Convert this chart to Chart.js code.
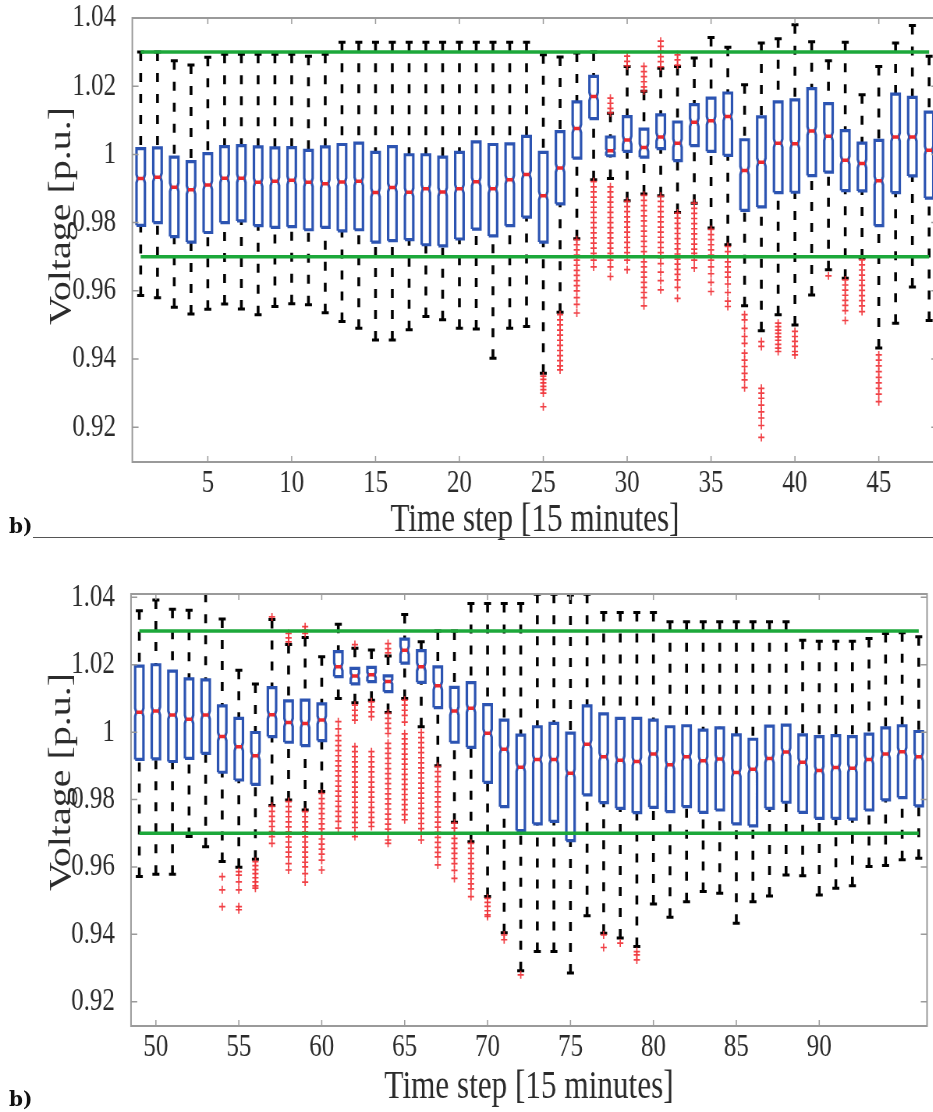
<!DOCTYPE html>
<html><head><meta charset="utf-8">
<script src="https://cdn.jsdelivr.net/npm/chart.js@4.4.0/dist/chart.umd.min.js"></script>
<style>
html,body{margin:0;padding:0;background:#fff;overflow:hidden;width:933px;height:1112px;position:relative;}
.wrap{position:absolute;left:0;transform-origin:0 0;transform:scaleX(0.78);}
canvas{display:block;}
.tag{position:absolute;left:9px;font-family:'DejaVu Serif',serif;font-weight:bold;font-size:20px;line-height:20px;color:#111;}
.rule{position:absolute;left:33px;width:900px;height:0;border-top:1.5px solid #555;}
</style></head><body>
<div class="wrap" style="top:0"><canvas id="c1" width="1212" height="545"></canvas></div>
<div class="wrap" style="top:560px"><canvas id="c2" width="1196" height="552"></canvas></div>
<div class="tag" style="top:516px">b)</div>
<div class="rule" style="top:537px"></div>
<div class="tag" style="top:1089px">b)</div>
<script>
// ---------- DATA ----------
const xTitle = 'Time step [15 minutes]';
const yTitle = 'Voltage [p.u.]';
const yTickValues = [0.92, 0.94, 0.96, 0.98, 1.00, 1.02, 1.04];
const yTickLabels = ['0.92', '0.94', '0.96', '0.98', '1', '1.02', '1.04'];
const xTicksTop = [5, 10, 15, 20, 25, 30, 35, 40, 45];
const xTicksBottom = [50, 55, 60, 65, 70, 75, 80, 85, 90];
const voltageLimits = [0.97, 1.03];

const stepsTop = [1,2,3,4,5,6,7,8,9,10,11,12,13,14,15,16,17,18,19,20,21,22,23,24,
  25,26,27,28,29,30,31,32,33,34,35,36,37,38,39,40,41,42,43,44,45,46,47,48];
const hiTop = [1.030,1.030,1.0275,1.0262,1.0285,1.0294,1.0294,1.0294,1.0294,1.0294,1.0288,1.0294,
  1.0329,1.0329,1.0329,1.0329,1.0329,1.0329,1.0329,1.0329,1.0329,1.0329,1.0329,1.0329,
  1.0292,1.0286,1.0297,1.030,1.0121,1.0258,1.0185,1.0253,1.0258,1.0283,1.0343,1.0314,
  1.0204,1.0327,1.0339,1.0380,1.0330,1.0275,1.0329,1.0175,1.0258,1.0327,1.0378,1.0288];
const q3Top = [1.0017,1.0019,0.9992,0.9979,1.0002,1.0023,1.0026,1.0022,1.0019,1.0020,1.0012,1.0022,
  1.0029,1.0033,1.0006,1.0023,0.9999,0.9999,0.9992,1.0006,1.0037,1.0029,1.0031,1.0053,
  1.0006,1.0067,1.0154,1.0229,1.0051,1.0111,1.0074,1.0116,1.0095,1.0146,1.0165,1.0180,
  1.0043,1.0110,1.0154,1.0160,1.0193,1.0149,1.0070,1.0033,1.0041,1.0177,1.0167,1.0124];
const medTop = [0.9929,0.9933,0.9904,0.9896,0.9910,0.9930,0.9930,0.9918,0.9921,0.9924,0.9918,0.9914,
  0.9919,0.9921,0.9888,0.9903,0.9889,0.9899,0.9890,0.9899,0.9920,0.9899,0.9926,0.9941,
  0.9879,0.9960,1.0076,1.0170,1.0011,1.0042,1.0020,1.0051,1.0033,1.0094,1.0099,1.0111,
  0.9953,0.9977,1.0033,1.0031,1.0069,1.0053,0.9983,0.9973,0.9923,1.0051,1.0051,1.0012];
const q1Top = [0.9792,0.9800,0.9759,0.9743,0.9771,0.9800,0.9805,0.9791,0.9786,0.9788,0.9779,0.9786,
  0.9776,0.9779,0.9743,0.9747,0.9750,0.9735,0.9732,0.9752,0.9781,0.9761,0.9791,0.9816,
  0.9743,0.9855,0.9989,1.0105,0.9996,1.0009,0.9992,1.0017,0.9982,1.0026,1.0009,0.9997,
  0.9836,0.9846,0.9888,0.9889,0.9938,0.9948,0.9894,0.9893,0.9791,0.9888,0.9937,0.9872];
const loTop = [0.9586,0.9580,0.9552,0.9532,0.9546,0.9561,0.9547,0.9530,0.9554,0.9562,0.9559,0.9536,
  0.9510,0.9490,0.9456,0.9456,0.9486,0.9525,0.9515,0.9490,0.9488,0.9402,0.9490,0.9495,
  0.9358,0.9537,0.9753,0.9926,0.9929,0.9864,0.9884,0.9879,0.9830,0.9857,0.9784,0.9735,
  0.9556,0.9483,0.9530,0.9500,0.9588,0.9662,0.9637,0.9696,0.9432,0.9505,0.9611,0.9513];
const outliersTop = {
  25:[0.935,0.934,0.933,0.932,0.931,0.930,0.926],
  26:[0.953,0.9515,0.950,0.9485,0.947,0.9455,0.944,0.9425,0.941,0.9395,0.938,0.9368],
  27:[0.975,0.9735,0.972,0.9705,0.969,0.9675,0.966,0.9645,0.963,0.9615,0.960,0.958,0.956,0.9535],
  28:[0.992,0.9905,0.989,0.9875,0.986,0.9845,0.983,0.9815,0.980,0.9785,0.977,0.9755,0.974,0.9725,0.971,0.969,0.967],
  29:[1.0165,1.015,1.0135,1.0122,0.9905,0.989,0.9875,0.986,0.9845,0.983,0.9815,0.980,0.9785,0.977,0.9755,0.974,0.9725,0.971,0.969,0.967,0.9642],
  30:[1.0288,1.0273,1.026,0.9862,0.9847,0.9832,0.9817,0.9802,0.9787,0.9772,0.9757,0.9742,0.9727,0.9712,0.969,0.9662],
  31:[1.0258,1.0243,1.0228,1.0213,1.0198,1.0186,0.988,0.9865,0.985,0.9835,0.982,0.9805,0.979,0.9775,0.976,0.9745,0.973,0.9715,0.970,0.9685,0.967,0.9655,0.964,0.9625,0.961,0.9595,0.958,0.9556],
  32:[1.0332,1.0317,1.0302,1.0287,1.0272,1.0257,0.9877,0.9862,0.9847,0.9832,0.9817,0.9802,0.9787,0.9772,0.9757,0.9742,0.9727,0.9712,0.9697,0.968,0.9655,0.963,0.9603],
  33:[1.0292,1.0277,1.0262,0.9828,0.9813,0.9798,0.9783,0.9768,0.9753,0.9738,0.9723,0.9708,0.9693,0.9678,0.9663,0.9648,0.9632,0.961,0.9578],
  34:[0.9857,0.9842,0.9827,0.9812,0.9797,0.9782,0.9767,0.9752,0.9737,0.9722,0.971,0.969,0.9667],
  35:[0.978,0.9765,0.975,0.9735,0.972,0.9705,0.969,0.967,0.965,0.9625,0.9598],
  36:[0.973,0.9715,0.970,0.9685,0.967,0.9655,0.964,0.962,0.9595,0.957,0.9554],
  37:[0.953,0.9515,0.949,0.9466,0.9446,0.9417,0.9397,0.9378,0.9358,0.9339,0.9316],
  38:[0.9451,0.9437,0.9314,0.930,0.9285,0.9265,0.9245,0.9227,0.9205,0.917],
  39:[0.9505,0.9495,0.9485,0.9475,0.9465,0.9455,0.9443,0.9432,0.9422],
  40:[0.9481,0.9466,0.9452,0.9437,0.9422,0.9412],
  42:[0.9644],
  43:[0.9632,0.9617,0.9602,0.9587,0.9572,0.9557,0.9542,0.9513],
  44:[0.9691,0.9676,0.9661,0.9646,0.9631,0.9616,0.9601,0.9586,0.9571,0.9556,0.9539],
  45:[0.9412,0.9397,0.938,0.9363,0.9346,0.933,0.9314,0.9297,0.9275]
};

const stepsBottom = [49,50,51,52,53,54,55,56,57,58,59,60,61,62,63,64,65,66,67,68,69,70,71,72,
  73,74,75,76,77,78,79,80,81,82,83,84,85,86,87,88,89,90,91,92,93,94,95,96];
const hiBottom = [1.0360,1.0392,1.0365,1.0362,1.0412,1.0336,1.0184,1.0143,1.0334,1.0260,1.0281,1.0224,
  1.0320,1.0249,1.0244,1.0226,1.0349,1.0268,1.0300,1.0300,1.0382,1.0382,1.0382,1.0382,
  1.0409,1.0409,1.0407,1.0409,1.0355,1.0355,1.0355,1.0355,1.0328,1.0328,1.0328,1.0328,
  1.0328,1.0328,1.0328,1.0328,1.0273,1.0270,1.0270,1.0270,1.0278,1.0293,1.0295,1.0283];
const q3Bottom = [1.0196,1.0200,1.0181,1.0158,1.0155,1.0078,1.0041,0.9999,1.0132,1.0093,1.0095,1.0084,
  1.0239,1.0189,1.0192,1.0167,1.0276,1.0242,1.0194,1.0133,1.0147,1.0082,1.0036,0.9991,
  1.0016,1.0026,0.9997,1.0078,1.0054,1.0041,1.0041,1.0036,1.0016,1.0019,1.0006,1.0013,
  0.9992,0.9979,1.0018,1.0021,0.9992,0.9987,0.9990,0.9987,0.9994,1.0013,1.0019,1.0002];
const medBottom = [1.0059,1.0063,1.0051,1.0038,1.0051,0.9987,0.9957,0.9930,1.0052,1.0029,1.0026,1.0036,
  1.0194,1.0167,1.0170,1.0150,1.0243,1.0194,1.0138,1.0063,1.0071,0.9997,0.9949,0.9896,
  0.9919,0.9919,0.9878,0.9964,0.9927,0.9917,0.9913,0.9935,0.9903,0.9927,0.9915,0.9920,
  0.9880,0.9890,0.9922,0.9941,0.9911,0.9886,0.9895,0.9893,0.9919,0.9935,0.9942,0.9927];
const q1Bottom = [0.9919,0.9921,0.9913,0.9922,0.9937,0.9881,0.9858,0.9845,0.9987,0.9970,0.9960,0.9975,
  1.0165,1.0143,1.0150,1.0120,1.0205,1.0148,1.0073,0.9970,0.9955,0.9851,0.9779,0.9708,
  0.9728,0.9735,0.9678,0.9814,0.9791,0.9774,0.9761,0.9777,0.9764,0.9779,0.9762,0.9769,
  0.9728,0.9722,0.9774,0.9792,0.9762,0.9744,0.9744,0.9742,0.9769,0.9799,0.9806,0.9781];
const loBottom = [0.9572,0.9578,0.9578,0.9690,0.9660,0.9616,0.9599,0.9623,0.9782,0.9799,0.9769,0.9824,
  1.0100,1.0087,1.0095,1.0058,1.0100,1.0016,0.9900,0.9733,0.9675,0.9512,0.9405,0.9292,
  0.9349,0.9349,0.9285,0.9455,0.9403,0.9389,0.9364,0.9490,0.9451,0.9497,0.9527,0.9522,
  0.9433,0.9497,0.9514,0.9576,0.9574,0.9517,0.9537,0.9544,0.9601,0.9604,0.9621,0.9626];
const outliersBottom = {
  54:[0.9571,0.9532,0.9482],
  55:[0.9586,0.9576,0.9556,0.9532,0.9482,0.9473],
  56:[0.9616,0.9604,0.9592,0.958,0.9568,0.9556,0.9544,0.9537],
  57:[1.0342,0.978,0.9765,0.975,0.9735,0.972,0.9705,0.969,0.967],
  58:[1.0293,1.028,1.0268,0.9794,0.9779,0.9764,0.9749,0.9734,0.9719,0.9704,0.9689,0.9674,0.9659,0.9644,0.963,0.961,0.9591],
  59:[1.0313,1.0303,1.0293,0.9764,0.9749,0.9734,0.9719,0.9704,0.9689,0.9674,0.9659,0.9644,0.9629,0.9614,0.960,0.958,0.9555],
  60:[0.9818,0.9803,0.9788,0.9773,0.9758,0.9743,0.9728,0.9713,0.9698,0.9683,0.9668,0.9653,0.9638,0.962,0.9591],
  61:[1.0031,1.001,0.999,0.9975,0.996,0.9945,0.993,0.9915,0.990,0.9885,0.987,0.9855,0.984,0.9825,0.981,0.9795,0.978,0.9765,0.975,0.9735,0.9715],
  62:[1.026,1.008,1.0065,1.005,1.0036,0.9957,0.9942,0.9927,0.9912,0.9897,0.9882,0.9867,0.9852,0.9837,0.9822,0.9807,0.9792,0.9777,0.9762,0.9747,0.9732,0.9717,0.970,0.969],
  63:[1.009,1.0075,1.006,1.0046,0.9942,0.9927,0.9912,0.9897,0.9882,0.9867,0.9852,0.9837,0.9822,0.9807,0.9792,0.9777,0.9762,0.9747,0.9732,0.972],
  64:[1.0263,1.0248,1.0235,1.0056,1.0041,1.0026,1.0011,0.9996,0.9967,0.9952,0.9937,0.9922,0.9907,0.9892,0.9877,0.9862,0.9847,0.9832,0.9817,0.9802,0.9787,0.9772,0.9757,0.9742,0.9727,0.9712,0.9697,0.968,0.967],
  65:[1.0095,1.008,1.0065,1.005,1.003,0.9995,0.998,0.9965,0.995,0.9935,0.992,0.9905,0.989,0.9875,0.986,0.9845,0.983,0.9815,0.980,0.9785,0.977,0.9755,0.974],
  66:[0.9999,0.9984,0.9969,0.9954,0.9939,0.9924,0.9909,0.9894,0.9879,0.9864,0.9849,0.9834,0.9819,0.9804,0.9789,0.9774,0.9759,0.9744,0.9729,0.9714,0.970,0.968],
  67:[0.9898,0.9883,0.9868,0.9853,0.9838,0.9823,0.9808,0.9793,0.9778,0.9763,0.9748,0.9733,0.9718,0.9703,0.9688,0.9673,0.9658,0.9643,0.963,0.9606],
  68:[0.973,0.9715,0.970,0.9685,0.967,0.9655,0.964,0.9625,0.961,0.959,0.9566],
  69:[0.967,0.9655,0.964,0.9625,0.961,0.9595,0.958,0.9565,0.955,0.9535,0.9512],
  70:[0.9507,0.9495,0.9483,0.947,0.9458,0.9453],
  71:[0.9398,0.9384],
  72:[0.928],
  77:[0.9398,0.9361],
  78:[0.9374],
  79:[0.9349,0.9339,0.9324]
};

// ---------- DRAWING ----------
const SX = 0.78;                 // horizontal compression of the figure
const BOX_HALF = 0.25, NOTCH_IN = 0.07, NOTCH_H = 0.0012;
const FONT = '"Liberation Serif", "Times New Roman", serif';

function buildDatasets(steps, lo, q1, med, q3, hi, outl) {
  const whisk = [], caps = [], box = [], meds = [], outs = [], lim = [];
  steps.forEach((s, i) => {
    whisk.push({x:s,y:hi[i]},{x:s,y:q3[i]},{x:s,y:null},{x:s,y:lo[i]},{x:s,y:q1[i]},{x:s,y:null});
    caps.push({x:s,y:hi[i]},{x:s,y:lo[i]});
    const nh = Math.min(NOTCH_H, (q3[i]-med[i])*0.4, (med[i]-q1[i])*0.4);
    const L = s - BOX_HALF, R = s + BOX_HALF;
    box.push({x:L,y:q1[i]},{x:R,y:q1[i]},{x:R,y:med[i]-nh},{x:R-NOTCH_IN,y:med[i]},{x:R,y:med[i]+nh},
             {x:R,y:q3[i]},{x:L,y:q3[i]},{x:L,y:med[i]+nh},{x:L+NOTCH_IN,y:med[i]},{x:L,y:med[i]-nh},
             {x:L,y:q1[i]},{x:s,y:null});
    meds.push({x:L+NOTCH_IN,y:med[i]},{x:R-NOTCH_IN,y:med[i]},{x:s,y:null});
    (outl[s] || []).forEach(v => outs.push({x:s,y:v}));
  });
  const first = steps[0], last = steps[steps.length-1];
  voltageLimits.forEach(v => lim.push({x:first,y:v},{x:last,y:v},{x:last,y:null}));
  return [
    {label:'limits', data:lim, showLine:true, borderColor:'rgb(28,168,58)', borderWidth:3.5, pointRadius:0, order:0},
    {label:'outliers', data:outs, showLine:false, pointStyle:'cross', pointRadius:4, pointBorderWidth:1.7,
     pointBorderColor:'rgba(240,50,55,0.92)', pointBackgroundColor:'rgba(240,50,55,0.92)', order:1},
    {label:'median', data:meds, showLine:true, borderColor:'rgb(238,40,45)', borderWidth:3.5, pointRadius:0, order:2},
    {label:'box', data:box, showLine:true, borderColor:'rgb(44,84,178)', borderWidth:3.2, borderJoinStyle:'miter', pointRadius:0, order:3},
    {label:'caps', data:caps, showLine:false, pointStyle:'line', pointRadius:4.5, pointBorderWidth:3,
     pointBorderColor:'#000', order:4},
    {label:'whiskers', data:whisk, showLine:true, borderColor:'#000', borderWidth:3.6, borderDash:[9,12],
     borderCapStyle:'butt', pointRadius:0, order:5}
  ];
}

const framePlugin = {
  id: 'frame',
  afterDraw(chart, args, opts) {
    const {ctx, chartArea:a, scales:{x, y}} = chart;
    ctx.save();
    ctx.strokeStyle = '#9a9a9a';
    ctx.lineWidth = 2;
    ctx.strokeRect(a.left, a.top, a.right - a.left, a.bottom - a.top);
    ctx.beginPath();
    y.ticks.forEach(t => { const p = y.getPixelForValue(t.value);
      ctx.moveTo(a.left, p); ctx.lineTo(a.left + 8, p); ctx.moveTo(a.right, p); ctx.lineTo(a.right - 8, p); });
    x.ticks.forEach(t => { const p = x.getPixelForValue(t.value);
      ctx.moveTo(p, a.bottom); ctx.lineTo(p, a.bottom - 6); ctx.moveTo(p, a.top); ctx.lineTo(p, a.top + 6); });
    ctx.lineWidth = 1.5;
    ctx.stroke();
    ctx.translate(opts.titleX, opts.titleY);
    ctx.rotate(-Math.PI / 2);
    ctx.font = '40px ' + FONT;
    ctx.fillStyle = '#2b2b2b';
    ctx.textAlign = 'center';
    ctx.textBaseline = 'middle';
    ctx.fillText(yTitle, 0, 0);
    ctx.restore();
  }
};

function makeChart(id, cfg) {
  return new Chart(document.getElementById(id), {
    type: 'scatter',
    data: { datasets: buildDatasets(cfg.steps, cfg.lo, cfg.q1, cfg.med, cfg.q3, cfg.hi, cfg.outl) },
    plugins: [framePlugin],
    options: {
      responsive: false, animation: false, devicePixelRatio: 1,
      layout: { padding: { top: cfg.padTop, right: cfg.padRight, left: 0, bottom: 0 } },
      plugins: { legend: {display:false}, tooltip: {enabled:false},
                 frame: { titleX: 62 / SX, titleY: cfg.yTitleY } },
      scales: {
        x: { type:'linear', min: cfg.xmin, max: cfg.xmax,
             afterBuildTicks: s => { s.ticks = cfg.xTicks.map(v => ({value:v})); },
             afterFit: s => { s.height = cfg.xAxisH; },
             grid: {display:false}, border: {display:false},
             ticks: { autoSkip:false, maxRotation:0, padding:-2, color:'#2b2b2b',
                      font:{family:FONT, size:32, lineHeight:1}, callback: v => String(v) },
             title: { display:true, text:xTitle, color:'#2b2b2b',
                      font:{family:FONT, size:40, lineHeight:1}, padding:{top:0, bottom:cfg.xTitlePad} } },
        y: { type:'linear', min: cfg.ymin, max: cfg.ymax,
             afterBuildTicks: s => { s.ticks = yTickValues.map(v => ({value:v})); },
             afterFit: s => { s.width = cfg.yAxisW; },
             grid: {display:false}, border: {display:false},
             ticks: { autoSkip:false, padding:12.8, color:'#2b2b2b',
                      font:{family:FONT, size:32, lineHeight:0.3}, callback: (v, i) => yTickLabels[i] } }
      }
    }
  });
}

makeChart('c1', { steps:stepsTop, lo:loTop, q1:q1Top, med:medTop, q3:q3Top, hi:hiTop, outl:outliersTop,
  xmin:0.5, xmax:48.5, ymin:0.9098, ymax:1.04, xTicks:xTicksTop,
  padTop:18, padRight:1212 - 937.5 / SX, yAxisW:132.3 / SX, xAxisH:83, xTitlePad:5, yTitleY:216 });
makeChart('c2', { steps:stepsBottom, lo:loBottom, q1:q1Bottom, med:medBottom, q3:q3Bottom, hi:hiBottom, outl:outliersBottom,
  xmin:48.5, xmax:96.5, ymin:0.9128, ymax:1.041, xTicks:xTicksBottom,
  padTop:34, padRight:1196 - 931.6 / SX, yAxisW:131 / SX, xAxisH:86, xTitlePad:5, yTitleY:222 });
</script>
</body></html>
